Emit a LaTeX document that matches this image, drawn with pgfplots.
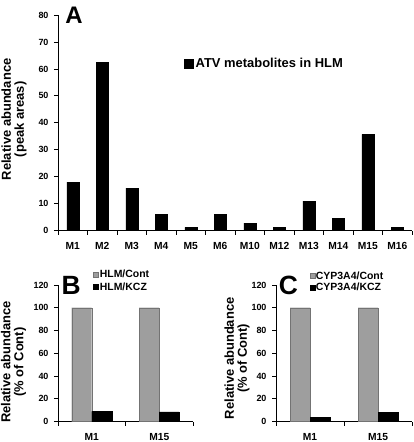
\documentclass[border=0pt]{standalone}
\usepackage{fontspec}
\setmainfont{Liberation Sans}
\usepackage{pgfplots}
\pgfplotsset{compat=1.18}
\definecolor{barg}{RGB}{158,158,158}
\definecolor{barge}{RGB}{115,115,115}
\pgfplotsset{
  common/.style={
    scale only axis, anchor=south west, clip=false,
    axis x line*=bottom, axis y line*=left,
    axis line style={-, black, line width=0.8bp},
    tick align=outside, major tick length=4bp, minor tick length=4bp,
    every tick/.style={black, line width=0.8bp},
    major x tick style={draw=none},
    /pgf/number format/assume math mode=true,
    yticklabel style={font=\bfseries\fontsize{9}{10}\selectfont, xshift=-2bp},
    xticklabel style={font=\bfseries\fontsize{10.3}{12}\selectfont, yshift=-4.5bp},
    ylabel style={font=\bfseries\fontsize{13}{13}\selectfont, align=center, anchor=center},
  },
  sqA/.style={legend image code/.code={\draw[##1] (0bp,-4.5bp) rectangle (9bp,4.5bp);}},
  sqB/.style={legend image code/.code={\draw[##1] (0bp,-2.5bp) rectangle (5bp,2.5bp);}},
}
\begin{document}
\begin{tikzpicture}
\useasboundingbox (0,0) rectangle (414bp,442bp);
% ---------- Panel A ----------
\begin{axis}[common,
  at={(58bp,211.3bp)}, width=354bp, height=215.7bp,
  ymin=0, ymax=80, ytick={0,10,...,80},
  xmin=-0.5, xmax=11.5, xtick={0,...,11},
  xticklabels={M1,M2,M3,M4,M5,M6,M10,M12,M13,M14,M15,M16},
  minor xtick={-0.5,0.5,...,11.5},
  ybar, bar width=12bp,
  ylabel={Relative abundance\\(peak areas)},
  ylabel style={at={(axis description cs:-0.124,0.516)}},
  legend style={at={(axis description cs:0.356,0.773)}, anchor=west, draw=none, fill=none,
    inner sep=0pt, font=\bfseries\fontsize{13}{15}\selectfont, nodes={inner sep=2bp}},
]
\addplot[fill=black, draw=black, sqA]
  coordinates {(0,18) (1,62.5) (2,15.8) (3,6) (4,1.2) (5,6) (6,2.8) (7,1.2) (8,11) (9,4.6) (10,35.7) (11,1.2)};
\legend{ATV metabolites in HLM}
\node[font=\bfseries\fontsize{24}{24}\selectfont] at (axis description cs:0.045,1.0) {A};
\end{axis}
% ---------- Panel B ----------
\begin{axis}[common,
  at={(58bp,20.5bp)}, width=135bp, height=136.5bp,
  ymin=0, ymax=120, ytick={0,20,...,120},
  xmin=-0.5, xmax=1.5, xtick={0,1}, xticklabels={M1,M15},
  minor xtick={-0.5,0.5,1.5},
  ybar=0pt, bar width=20bp,
  ylabel={Relative abundance\\(\% of Cont)},
  ylabel style={at={(axis description cs:-0.33,0.436)}},
  legend style={at={(axis description cs:0.261,1.031)}, anchor=west, draw=none, fill=none,
    inner sep=0pt, row sep=1.5bp, font=\bfseries\fontsize{10.5}{11}\selectfont, nodes={inner sep=1bp}},
  legend cell align=left,
]
\addplot[fill=barg, draw=barge, sqB] coordinates {(0,100) (1,100)};
\addplot[fill=black, draw=black, sqB] coordinates {(0,9) (1,8.4)};
\legend{HLM/Cont,HLM/KCZ}
\node[font=\bfseries\fontsize{26.5}{26.5}\selectfont] at (axis description cs:0.098,1.0) {B};
\end{axis}
% ---------- Panel C ----------
\begin{axis}[common,
  at={(276bp,20.5bp)}, width=136bp, height=136.5bp,
  ymin=0, ymax=120, ytick={0,20,...,120},
  xmin=-0.5, xmax=1.5, xtick={0,1}, xticklabels={M1,M15},
  minor xtick={-0.5,0.5,1.5},
  ybar=0pt, bar width=20bp,
  ylabel={Relative abundance\\(\% of Cont)},
  ylabel style={at={(axis description cs:-0.287,0.463)}},
  legend style={at={(axis description cs:0.245,1.023)}, anchor=west, draw=none, fill=none,
    inner sep=0pt, row sep=0.5bp, font=\bfseries\fontsize{10.5}{11}\selectfont, nodes={inner sep=1bp}},
  legend cell align=left,
]
\addplot[fill=barg, draw=barge, sqB] coordinates {(0,100) (1,100)};
\addplot[fill=black, draw=black, sqB] coordinates {(0,3.5) (1,7.8)};
\legend{CYP3A4/Cont,CYP3A4/KCZ}
\node[font=\bfseries\fontsize{26.5}{26.5}\selectfont] at (axis description cs:0.091,1.0) {C};
\end{axis}
\end{tikzpicture}
\end{document}
